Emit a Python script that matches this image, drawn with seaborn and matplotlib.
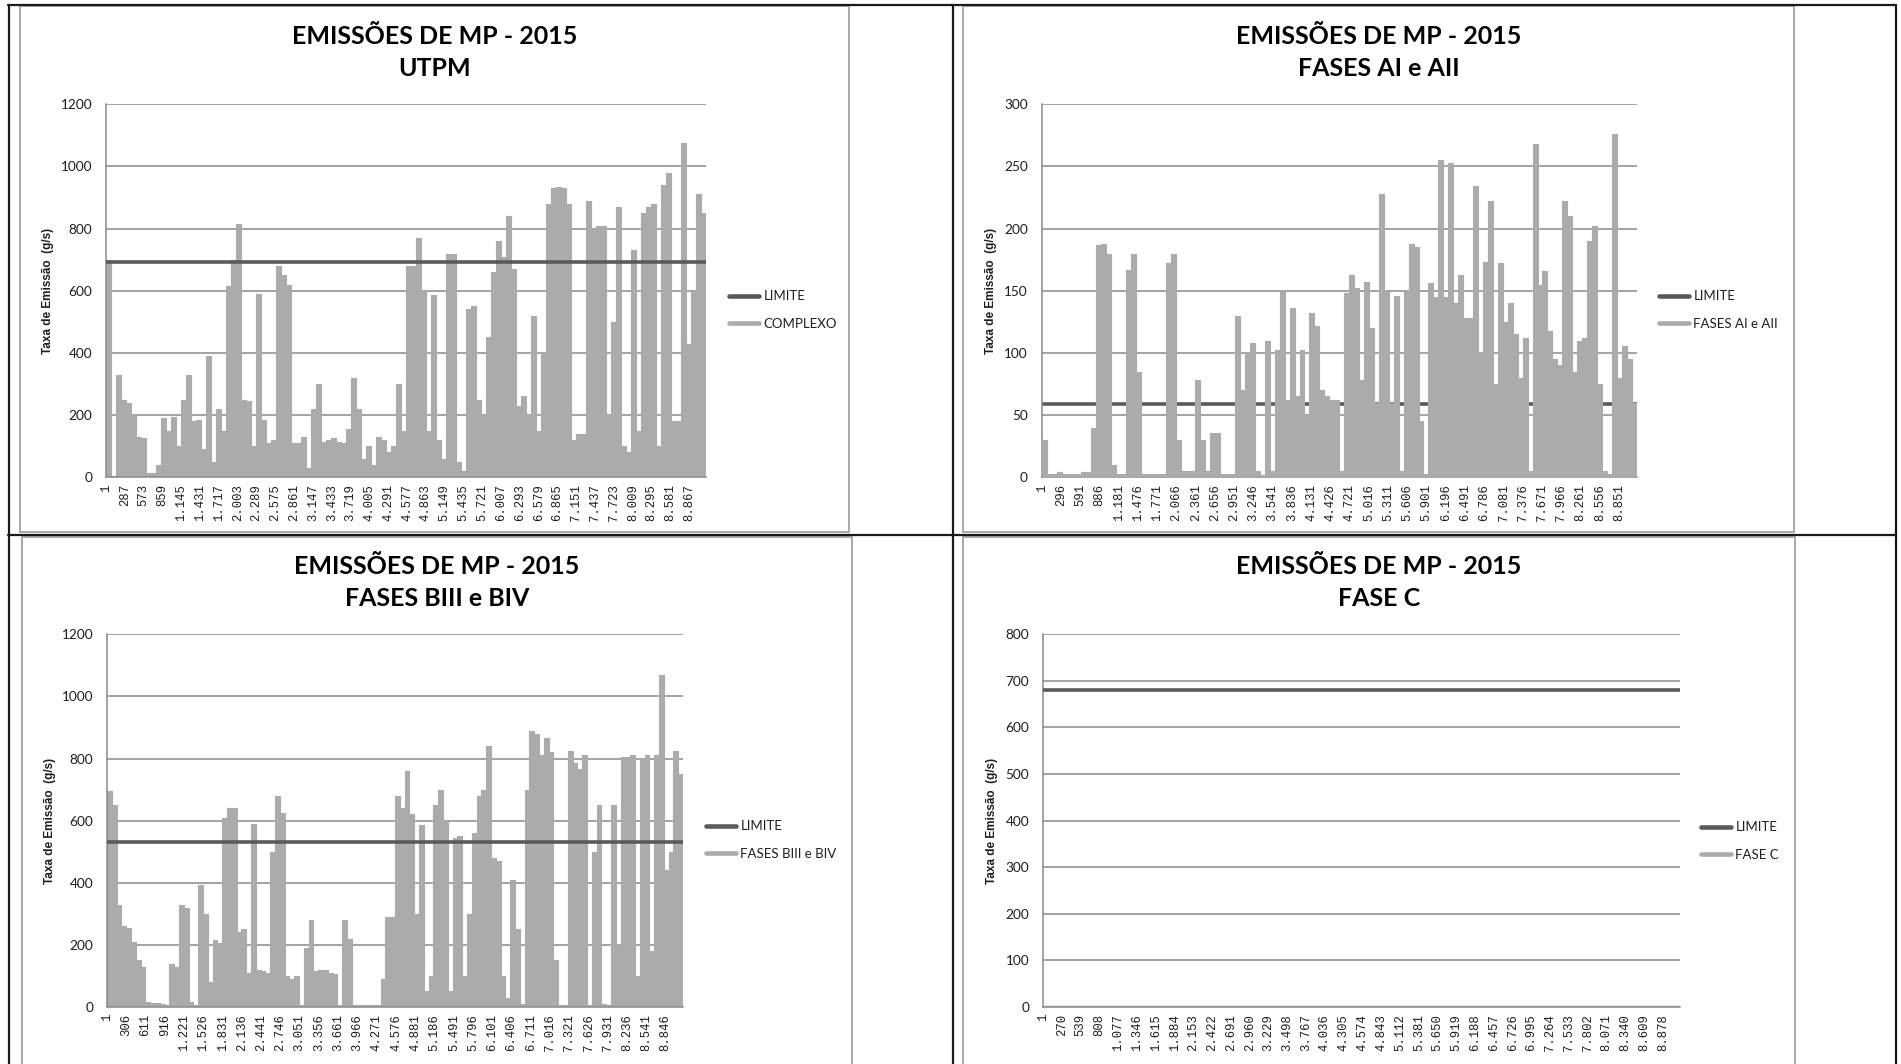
import matplotlib
matplotlib.use("Agg")
import matplotlib.pyplot as plt
from matplotlib.lines import Line2D
from matplotlib.patches import Rectangle
import numpy as np
import seaborn as sns

sns.set_theme(style="white")
plt.rcParams['font.family'] = ['Lato', 'DejaVu Sans']

# Emission series of 2015: 9120 points, kept as the peak of each block of 76 points
N_PONTOS = 9120
BLOCO = 76

utpm = [700, 5, 330, 250, 240, 200, 130, 125, 15, 15,
        40, 190, 150, 195, 100, 250, 330, 180, 185, 90,
        390, 50, 220, 150, 615, 700, 815, 250, 245, 100,
        590, 185, 110, 120, 680, 650, 620, 110, 110, 130,
        30, 220, 300, 115, 120, 125, 115, 110, 155, 320,
        220, 60, 100, 40, 130, 120, 80, 100, 300, 150,
        680, 680, 770, 600, 150, 585, 120, 60, 720, 720,
        50, 20, 540, 550, 250, 200, 450, 660, 760, 710,
        840, 670, 230, 260, 200, 520, 150, 400, 880, 930,
        935, 930, 880, 120, 140, 140, 890, 800, 810, 810,
        200, 500, 870, 100, 80, 730, 150, 850, 870, 880,
        100, 940, 980, 180, 180, 1075, 430, 600, 910, 850]

fases_a = [30, 3, 3, 4, 3, 3, 3, 3, 4, 4,
           40, 187, 188, 180, 10, 3, 3, 167, 180, 85,
           3, 3, 3, 3, 3, 172, 180, 30, 5, 5,
           5, 78, 30, 5, 36, 36, 3, 3, 3, 130,
           70, 100, 108, 5, 2, 110, 5, 102, 150, 62,
           136, 65, 102, 50, 132, 122, 70, 65, 62, 62,
           5, 148, 163, 152, 78, 157, 120, 60, 228, 150,
           60, 146, 5, 150, 188, 185, 45, 3, 156, 145,
           255, 145, 253, 140, 163, 128, 128, 234, 100, 173,
           222, 75, 172, 125, 140, 115, 80, 112, 5, 268,
           155, 166, 118, 95, 90, 222, 210, 85, 110, 112,
           190, 202, 75, 5, 3, 276, 80, 106, 95, 60]

fases_b = [695, 650, 330, 260, 255, 210, 150, 130, 15, 12,
           12, 10, 8, 140, 130, 330, 320, 15, 8, 392,
           300, 80, 215, 205, 610, 642, 640, 240, 250, 110,
           590, 120, 115, 110, 500, 680, 625, 100, 90, 100,
           5, 190, 280, 115, 120, 120, 110, 105, 5, 280,
           220, 5, 8, 5, 5, 5, 5, 90, 290, 290,
           680, 640, 760, 620, 300, 585, 50, 100, 650, 700,
           600, 50, 545, 550, 100, 300, 560, 680, 700, 840,
           480, 470, 100, 30, 410, 250, 10, 700, 890, 880,
           810, 865, 820, 150, 5, 5, 825, 785, 765, 812,
           5, 500, 650, 10, 5, 650, 200, 805, 805, 810,
           100, 800, 810, 180, 810, 1070, 440, 500, 825, 750]

fase_c = [0, 0, 0, 0, 0, 0, 0, 0, 0, 0, 0, 0, 0, 0, 0, 0, 0, 0, 0, 0,
          0, 0, 0, 0, 0, 0, 0, 0, 0, 0, 0, 0, 0, 0, 0, 0, 0, 0, 0, 0,
          0, 0, 0, 0, 0, 0, 0, 0, 0, 0, 0, 0, 0, 0, 0, 0, 0, 0, 0, 0,
          0, 0, 0, 0, 0, 0, 0, 0, 0, 0, 0, 0, 0, 0, 0, 0, 0, 0, 0, 0,
          0, 0, 0, 0, 0, 0, 0, 0, 0, 0, 0, 0, 0, 0, 0, 0, 0, 0, 0, 0,
          0, 0, 0, 0, 0, 0, 0, 0, 0, 0, 0, 0, 0, 0, 0, 0, 0, 0, 0, 0]

limites = [692, 59, 530, 680]
subtitulos = ["UTPM", "FASES AI e AII", "FASES BIII e BIV", "FASE C"]
nomes_series = ["COMPLEXO", "FASES AI e AII", "FASES BIII e BIV", "FASE C"]
y_max = [1200, 300, 1200, 800]
y_passo = [200, 50, 200, 100]
x_intervalo = [286, 295, 305, 269]
series = [utpm, fases_a, fases_b, fase_c]

# layout in pixels (x0, y0, x1, y1)
W, H = 1901, 1064
molduras = [(20, 6, 849, 532), (963, 6, 1794, 532),
            (22, 537, 852, 1066), (963, 537, 1795, 1066)]
areas = [(106, 104.3, 706, 477.3), (1041.7, 104.3, 1636.7, 477.3),
         (107, 634.3, 683, 1007), (1043, 634.3, 1680, 1007)]
titulo_y = [(36, 69), (36, 69), (566, 599), (566, 599)]
ylabel_x = [48.5, 990.5, 49.7, 991.7]
legenda_xy = [(729, 310), (1659, 310), (706, 840), (1701, 841)]
serie_por_cima = [False, True, False, False]

CINZA = '#ABABAB'
ESCURO = '#5A5A5A'
GRADE = '#8A8A8A'
TEXTO = '#1E1E1E'

fig = plt.figure(figsize=(W / 100, H / 100), dpi=100)


def frac_rect(x0, y0, x1, y1):
    return [x0 / W, 1 - y1 / H, (x1 - x0) / W, (y1 - y0) / H]


for i in range(4):
    fx0, fy0, fx1, fy1 = molduras[i]
    fig.add_artist(Rectangle((fx0 / W, 1 - fy1 / H), (fx1 - fx0) / W, (fy1 - fy0) / H,
                             transform=fig.transFigure, fill=False, ec='#A8A8A8', lw=1.4))

    ax = fig.add_axes(frac_rect(*areas[i]))
    vals = series[i]
    x_bordas = np.arange(len(vals) + 1) * BLOCO + 0.5
    y_degrau = list(vals) + [vals[-1]]

    z_serie = 3 if serie_por_cima[i] else 2
    z_lim = 2 if serie_por_cima[i] else 3
    ax.fill_between(x_bordas, 0, y_degrau, step='post', color=CINZA, lw=0, zorder=z_serie)
    sns.lineplot(x=x_bordas, y=y_degrau, drawstyle='steps-post', color=CINZA,
                 lw=2.5 if i == 3 else 0.8, ax=ax, zorder=z_serie, estimator=None)
    sns.lineplot(x=[0.5, N_PONTOS + 0.5], y=[limites[i], limites[i]], color=ESCURO,
                 lw=2.6, ax=ax, zorder=z_lim, estimator=None)

    ax.set_xlim(0.5, N_PONTOS + 0.5)
    ax.set_ylim(0, y_max[i])
    ax.set_yticks(np.arange(0, y_max[i] + 1, y_passo[i]))
    ax.set_yticklabels([str(v) for v in np.arange(0, y_max[i] + 1, y_passo[i])],
                       fontsize=9.8, color=TEXTO)
    ticks = list(range(1, N_PONTOS + 1, x_intervalo[i]))
    ax.set_xticks(ticks)
    ax.set_xticklabels([f"{t:,}".replace(',', '.') for t in ticks], rotation=90,
                       family=['Liberation Mono', 'DejaVu Sans Mono'], fontsize=8.8, color=TEXTO)
    ax.tick_params(axis='y', length=0, pad=10)
    ax.tick_params(axis='x', length=0, pad=5)
    ax.yaxis.grid(True, color=GRADE, lw=1.1, zorder=0)
    ax.set_axisbelow(True)
    for lado in ['top', 'right']:
        ax.spines[lado].set_visible(False)
    for lado in ['left', 'bottom']:
        ax.spines[lado].set_color(GRADE)
        ax.spines[lado].set_linewidth(1.1)
    ax.set_xlabel('')
    ax.set_ylabel('')
    ax.set_facecolor('white')

    handles = [Line2D([], [], color=ESCURO, lw=3.3), Line2D([], [], color=CINZA, lw=3.3)]
    lx, ly = legenda_xy[i]
    ax.legend(handles, ["LIMITE", nomes_series[i]], loc='center left',
              bbox_to_anchor=(lx / W, 1 - ly / H), bbox_transform=fig.transFigure,
              frameon=False, fontsize=9.5, handlelength=2.3, handletextpad=0.3,
              labelspacing=1.15, borderpad=0, borderaxespad=0, labelcolor=TEXTO)

    cx = (fx0 + fx1) / 2
    fig.text(cx / W, 1 - titulo_y[i][0] / H, "EMISSÕES DE MP - 2015", ha='center', va='center',
             fontsize=18, fontweight='bold', color='black')
    fig.text(cx / W, 1 - titulo_y[i][1] / H, subtitulos[i], ha='center', va='center',
             fontsize=18, fontweight='bold', color='black')
    ay0, ay1 = areas[i][1], areas[i][3]
    fig.text(ylabel_x[i] / W, 1 - (ay0 + ay1) / 2 / H, "Taxa de Emissão  (g/s)", rotation=90,
             ha='center', va='center', fontsize=8.5, fontweight='bold',
             family=['Liberation Sans', 'DejaVu Sans'], color=TEXTO)

# table borders
BORDA = '#1A1A1A'
for (xa, ya, xb, yb) in [(8, 5, 1896, 5), (8, 535, 1896, 535), (9, 5, 9, 1064),
                         (953, 5, 953, 1064), (1896, 5, 1896, 1064)]:
    fig.add_artist(Line2D([xa / W, xb / W], [1 - ya / H, 1 - yb / H],
                          transform=fig.transFigure, color=BORDA, lw=1.6))

fig.savefig("out.png", dpi=100)
